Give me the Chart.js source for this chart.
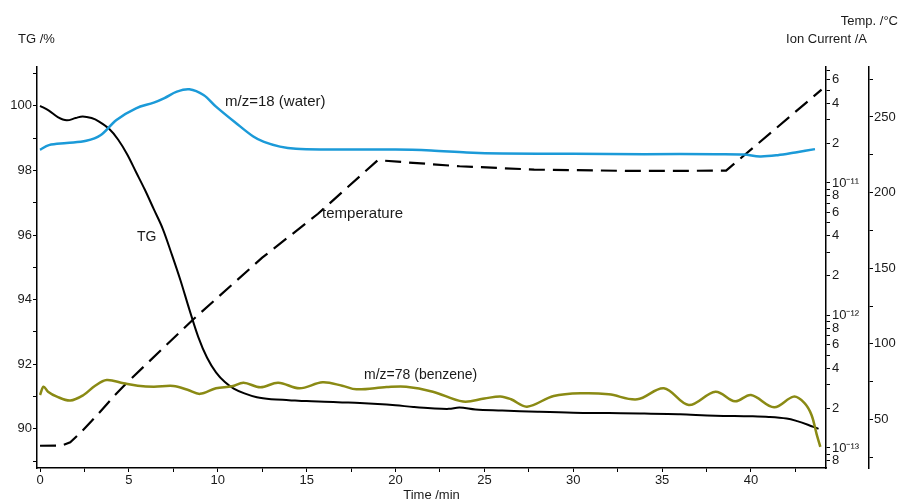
<!DOCTYPE html>
<html>
<head>
<meta charset="utf-8">
<script src="https://cdn.jsdelivr.net/npm/chart.js@4.4.1/dist/chart.umd.min.js"></script>
<style>
html, body { margin: 0; padding: 0; background: #fff; }
</style>
</head>
<body>
<canvas id="myChart1" width="900" height="504"></canvas>
<script>
// TG /% (left axis)
const tgTime  = [0,0.5,1.0,1.5,2.0,2.4,2.9,3.3,3.9,4.4,4.9,5.4,5.9,6.4,6.9,7.4,7.9,8.4,8.9,9.4,9.9,10.4,10.9,11.5,12.2,13,14,15,16,17,18,19,20,21,22,23,23.6,24.5,26,28,30,32,34,36,38,40,41,42,42.6,43.2,43.8];
const tgValue = [100.0,99.85,99.65,99.55,99.62,99.67,99.62,99.52,99.28,98.95,98.5,97.95,97.4,96.8,96.2,95.42,94.6,93.7,92.85,92.2,91.75,91.45,91.25,91.1,90.98,90.92,90.89,90.86,90.84,90.82,90.8,90.77,90.73,90.68,90.64,90.62,90.66,90.6,90.57,90.53,90.5,90.49,90.48,90.45,90.41,90.39,90.37,90.32,90.24,90.13,90.0];

// m/z=18 ion current /A
const waterTime  = [0,0.5,1.5,2.6,3.4,4.3,5.4,6.4,7.0,7.7,8.4,9.2,9.9,11.0,12.0,12.6,13.5,14.4,16,20,22,24,26,30,34,38,39.6,40.5,41.5,42.5,43.6];
const waterValue = [1.78e-11,1.93e-11,2.0e-11,2.08e-11,2.29e-11,2.99e-11,3.66e-11,4.04e-11,4.37e-11,4.89e-11,5.09e-11,4.61e-11,3.77e-11,2.85e-11,2.24e-11,2.04e-11,1.88e-11,1.81e-11,1.79e-11,1.79e-11,1.76e-11,1.70e-11,1.67e-11,1.66e-11,1.65e-11,1.65e-11,1.64e-11,1.585e-11,1.62e-11,1.70e-11,1.80e-11];

// m/z=78 ion current /A
const bzTime  = [0,0.2,0.45,0.95,1.7,2.45,3.1,3.75,4.7,5.5,6.4,7.5,8.3,9.0,9.9,10.8,11.45,12.4,13.4,14.6,15.9,17.0,17.8,19.5,20.6,22.1,23.8,25.0,25.9,26.5,27.4,28.9,30.6,32.0,33.6,35.1,36.5,38.0,39.1,40.0,41.3,42.4,43.0,43.4,43.7,43.9];
const bzValue = [2.51e-13,2.90e-13,2.66e-13,2.44e-13,2.28e-13,2.51e-13,2.95e-13,3.26e-13,3.08e-13,2.95e-13,2.90e-13,2.94e-13,2.75e-13,2.56e-13,2.82e-13,2.92e-13,3.11e-13,2.87e-13,3.11e-13,2.82e-13,3.13e-13,2.95e-13,2.77e-13,2.88e-13,2.90e-13,2.66e-13,2.24e-13,2.36e-13,2.45e-13,2.33e-13,2.05e-13,2.47e-13,2.59e-13,2.54e-13,2.33e-13,2.82e-13,2.11e-13,2.66e-13,2.25e-13,2.51e-13,2.03e-13,2.44e-13,2.19e-13,1.78e-13,1.26e-13,1.02e-13];

// Temp. /°C
const tempTime  = [0,1.2,1.7,2.25,2.9,3.56,4.2,4.9,8.6,12.5,15.64,19.0,23.6,27.8,33.4,38.6,43.97];
const tempValue = [32.7,32.8,35.0,41.0,49.0,57.5,66.0,74.5,116.0,157.0,186.0,221.4,217.4,215.2,214.3,214.5,268.0];

// curve labels (time, TG level)
const noteText  = ['m/z=18 (water)','TG','temperature','m/z=78 (benzene)'];
const noteTime  = [10.41,5.46,15.87,18.23];
const noteLevel = [100.12,95.94,96.66,91.67];
const noteSize  = [15,14,15,14];

const FONT = '"Liberation Sans", Arial, sans-serif';
const tickFont = {family: FONT, size: 13};
const textColor = '#1a1a1a';

function pairs(xs, ys){
	let out = [];
	for(var i=0;i<xs.length;i=i+1){
		out.push({x: xs[i], y: ys[i]});
	}
	return out;
}

function mantissa(v){
	let e = Math.floor(Math.log10(v) + 1e-9);
	return {m: Math.round(v / Math.pow(10, e) * 1000) / 1000, e: e};
}

const SUP = {'-':'\u207B','0':'\u2070','1':'\u00B9','2':'\u00B2','3':'\u00B3','4':'\u2074','5':'\u2075','6':'\u2076','7':'\u2077','8':'\u2078','9':'\u2079'};
function sup(n){
	return String(n).split('').map(c => SUP[c]).join('');
}

const textPlugin = {
	id: 'texts',
	afterDraw(chart){
		const ctx = chart.ctx;
		const xs = chart.scales.x, ys = chart.scales.y;
		ctx.save();
		ctx.fillStyle = textColor;
		ctx.textBaseline = 'middle';
		ctx.font = '13px ' + FONT;
		ctx.textAlign = 'left';
		ctx.fillText('TG /%', 18, 39);
		ctx.textAlign = 'right';
		ctx.fillText('Ion Current /A', 867, 39);
		ctx.fillText('Temp. /°C', 898, 21);
		ctx.textAlign = 'left';
		for(var i=0;i<noteText.length;i=i+1){
			ctx.font = noteSize[i] + 'px ' + FONT;
			ctx.fillText(noteText[i], xs.getPixelForValue(noteTime[i]), ys.getPixelForValue(noteLevel[i]));
		}
		ctx.restore();
	}
};

const data = {
	datasets: [{
		label: 'm/z=18 (water)',
		data: pairs(waterTime, waterValue),
		yAxisID: 'ion',
		borderColor: '#1b9ad8',
		borderWidth: 2.5,
		tension: 0.35
	},{
		label: 'm/z=78 (benzene)',
		data: pairs(bzTime, bzValue),
		yAxisID: 'ion',
		borderColor: '#8a8a14',
		borderWidth: 2.5,
		tension: 0.35
	},{
		label: 'temperature',
		data: pairs(tempTime, tempValue),
		yAxisID: 'temp',
		borderColor: '#000',
		borderWidth: 2.2,
		borderDash: [16, 8],
		tension: 0
	},{
		label: 'TG',
		data: pairs(tgTime, tgValue),
		yAxisID: 'y',
		borderColor: '#000',
		borderWidth: 2,
		tension: 0.35
	}]
};

const axisGrid = {drawOnChartArea: false, drawTicks: true, tickLength: 4, color: '#000', tickWidth: 1};
const axisBorder = {display: true, color: '#000', width: 1.5};

const config = {
	type: 'line',
	data: data,
	plugins: [textPlugin],
	options: {
		responsive: false,
		animation: false,
		devicePixelRatio: 1,
		layout: {padding: {top: 67, left: 0, right: 0, bottom: 0}},
		elements: {point: {radius: 0}, line: {borderCapStyle: 'butt'}},
		plugins: {legend: {display: false}, tooltip: {enabled: false}, title: {display: false}},
		scales: {
			x: {
				type: 'linear', position: 'bottom', min: -0.17, max: 44.22,
				grid: axisGrid, border: axisBorder,
				ticks: {stepSize: 2.5, includeBounds: false, autoSkip: false, maxRotation: 0, padding: 1, color: textColor, font: tickFont,
					callback: v => (Math.abs(v % 5) < 1e-6 ? String(v) : '')},
				title: {display: true, text: 'Time /min', color: textColor, font: tickFont, padding: {top: 0, bottom: 1}},
				afterFit: s => { s.height = 36; }
			},
			y: {
				type: 'linear', position: 'left', min: 88.79, max: 101.2,
				grid: axisGrid, border: axisBorder,
				ticks: {stepSize: 1, includeBounds: false, autoSkip: false, padding: 1, color: textColor, font: tickFont,
					callback: v => (Math.round(v) % 2 === 0 ? String(v) : '')},
				afterFit: s => { s.width = 37; }
			},
			ion: {
				type: 'logarithmic', position: 'right', weight: 0, min: 7.06e-14, max: 7.5e-11,
				grid: Object.assign({}, axisGrid, {
					tickColor: c => (Number.isInteger(mantissa(c.tick.value).m) ? '#000' : 'rgba(0,0,0,0)')
				}),
				border: axisBorder,
				ticks: {autoSkip: false, padding: 2, color: textColor, font: tickFont,
					callback: v => {
						let r = mantissa(v);
						if(r.m === 1) return '10' + sup(r.e);
						if(r.m === 2 || r.m === 4 || r.m === 6 || r.m === 8) return String(r.m);
						return '';
					}},
				afterFit: s => { s.width = 43; }
			},
			temp: {
				type: 'linear', position: 'right', weight: 1, min: 18, max: 283,
				grid: axisGrid, border: axisBorder,
				ticks: {stepSize: 25, includeBounds: false, autoSkip: false, padding: 1, color: textColor, font: tickFont,
					callback: v => (v % 50 === 0 ? String(v) : '')},
				afterFit: s => { s.width = 31; }
			}
		}
	}
};

let myChart1 = new Chart(document.getElementById('myChart1'), config);
</script>
</body>
</html>
